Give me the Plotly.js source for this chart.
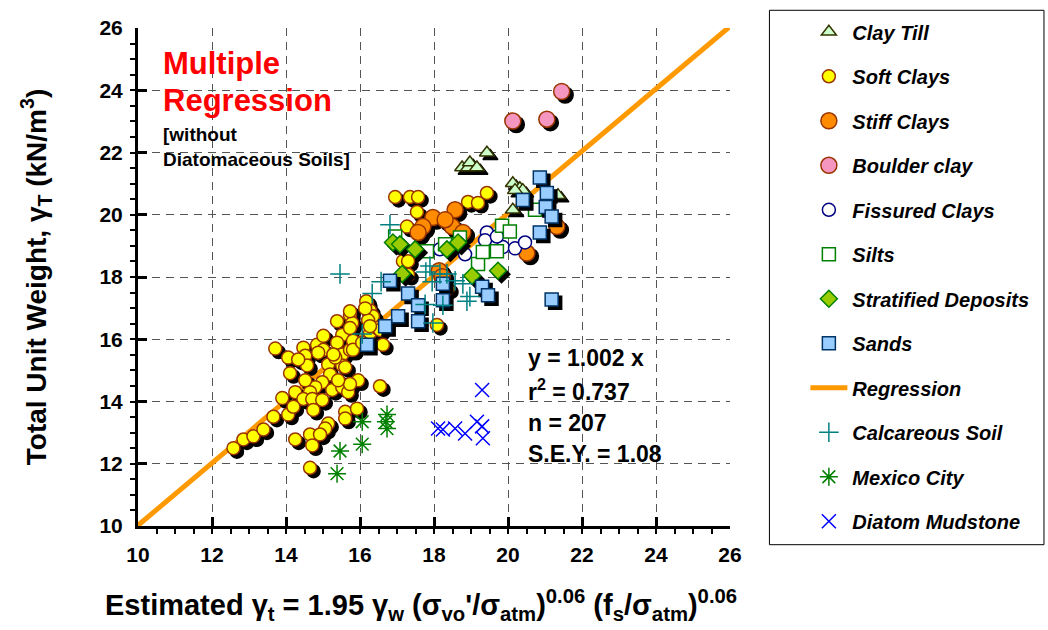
<!DOCTYPE html>
<html>
<head>
<meta charset="utf-8">
<script src="https://cdn.plot.ly/plotly-3.0.1.min.js"></script>
<style>html,body{margin:0;padding:0;background:#fff;}#chart{width:1048px;height:630px;}</style>
</head>
<body>
<div id="chart"></div>
<script>
// ---- data ----
const clayTillX = [18.76, 18.92, 18.97, 19.16, 19.43, 20.13, 20.32, 20.40, 20.19, 21.35, 20.13];
const clayTillY = [21.52, 21.52, 21.68, 21.52, 21.99, 21.01, 20.85, 20.79, 20.79, 20.63, 20.16];

const softX = [12.58,12.85,13.12,13.39,13.66,13.90,13.71,14.06,14.11,14.06,14.25,14.25,14.47,14.52,14.57,14.33,14.65,14.71,14.65,14.84,
  15.01,15.01,14.87,15.38,15.73,15.79,15.52,15.38,15.52,15.73,15.81,15.14,15.52,15.19,14.98,14.79,14.65,14.47,14.71,14.98,
  14.74,15.25,15.52,15.68,15.95,15.73,15.60,15.60,15.92,15.14,15.06,14.92,16.54,16.19,16.27,16.35,16.22,16.27,16.62,16.46,
  15.81,15.33,15.73,16.17,16.14,16.54,16.27,15.73,16.95,17.35,17.57,17.54,17.27,18.92,19.19,19.43,17.16,17.30,17.30,16.98,
  18.24,18.38,18.08,15.28,15.41,14.52,14.20,16.06,15.60];
const softY = [12.50,12.78,12.88,13.10,13.51,14.11,15.70,15.41,14.91,13.58,12.78,14.30,15.73,15.47,15.16,15.35,12.94,12.59,11.87,15.82,
  16.11,15.66,15.57,16.58,16.77,16.52,16.14,15.89,15.51,15.66,15.95,15.19,15.16,14.87,14.62,14.46,14.30,14.08,14.08,14.05,
  13.73,14.37,14.46,14.30,14.68,14.56,13.67,13.45,13.77,13.29,13.13,12.94,14.49,17.15,16.93,16.74,16.61,16.20,15.82,16.36,
  15.66,15.41,16.36,17.22,16.99,16.30,16.42,16.90,20.57,20.57,20.57,20.09,19.62,20.41,20.38,20.70,18.51,18.51,18.07,19.05,
  18.10,17.63,16.46,15.51,14.68,14.68,13.83,15.89,15.10];

const stiffX = [17.97, 17.70, 17.57, 18.57, 18.49, 18.78, 18.14, 18.22, 20.51, 21.32, 18.30];
const stiffY = [19.91, 19.62, 19.43, 20.16, 19.62, 19.43, 18.20, 18.01, 18.77, 19.62, 19.84];

const boulderX = [21.45, 20.13, 21.05];
const boulderY = [23.96, 23.01, 23.07];

const fissuredX = [18.16, 18.84, 19.43, 19.38, 19.86, 20.19, 20.46, 19.70];
const fissuredY = [18.89, 18.73, 19.43, 19.18, 18.96, 18.92, 19.11, 19.30];

const siltsX = [16.95, 17.81, 18.70, 19.19, 19.32, 19.70, 19.84, 20.05, 20.73, 18.30];
const siltsY = [19.30, 18.83, 19.27, 18.42, 18.80, 18.83, 19.65, 19.46, 20.16, 19.05];

const stratX = [16.89, 17.08, 17.49, 18.35, 18.65, 17.14, 19.03, 19.73];
const stratY = [19.11, 19.05, 18.89, 18.89, 19.11, 18.10, 18.04, 18.20];

const sandsX = [16.81, 17.30, 17.57, 17.03, 16.68, 16.19, 18.24, 18.24, 17.57, 19.30, 19.46, 20.86, 21.05, 20.40, 21.02, 21.18, 20.86, 21.18];
const sandsY = [17.88, 17.47, 17.09, 16.74, 16.42, 15.82, 17.78, 17.25, 16.58, 17.69, 17.41, 21.20, 20.70, 20.47, 20.25, 19.94, 19.43, 17.28];

const calcX = [15.46, 16.06, 16.33, 16.57, 16.81, 17.78, 17.89, 17.95, 18.16, 18.35, 18.57, 18.78, 18.89, 18.97, 17.76, 18.24, 17.97];
const calcY = [18.10, 16.17, 17.47, 17.85, 19.68, 18.16, 18.35, 17.85, 18.10, 18.10, 17.88, 17.78, 17.22, 17.37, 17.12, 17.09, 16.52];

const mexicoX = [16.73, 16.73, 16.06, 16.06, 15.46, 15.38, 16.70];
const mexicoY = [13.58, 13.13, 13.35, 12.63, 12.41, 11.68, 13.35];

const diatomX = [19.30, 18.11, 18.24, 18.57, 18.84, 19.16, 19.30, 19.32];
const diatomY = [14.37, 13.13, 13.10, 13.13, 12.97, 13.35, 13.20, 12.82];

const regSlope = 1.002;
const regX = [10, 26];

const xTicks = [10, 12, 14, 16, 18, 20, 22, 24, 26];
const yTicks = [10, 12, 14, 16, 18, 20, 22, 24, 26];

// ---- layout helpers ----
const W = 1048, H = 630;
const L = 137.5, R = 730.5, T = 20, B = 526;
const pw = R - L, ph = B - T;
const px2paperX = p => (p - L) / pw;
const px2paperY = p => (B - p) / ph;
const shadowDx = 3.5 * 16 / pw, shadowDy = 3.5 * 16 / ph;

const FONT = 'Arial, "Liberation Sans", Helvetica, sans-serif';

function shadow(xs, ys, symbol, size) {
  return {
    x: xs.map(v => v + shadowDx), y: ys.map(v => v - shadowDy),
    type: 'scatter', mode: 'markers', showlegend: false, hoverinfo: 'skip',
    marker: {symbol: symbol, size: size, color: '#000', line: {width: 1.5, color: '#000'}}
  };
}
function series(name, xs, ys, rank, marker) {
  return {x: xs, y: ys, name: name, type: 'scatter', mode: 'markers',
    legendrank: rank, legendgroup: name, marker: marker};
}

const traces = [
  {x: regX, y: regX.map(v => regSlope * v), name: 'Regression', type: 'scatter', mode: 'lines',
   legendrank: 9, legendgroup: 'Regression', line: {color: '#FF9900', width: 5}},
  shadow(clayTillX, clayTillY, 'triangle-up', 13),
  series('Clay Till', clayTillX, clayTillY, 1, {symbol: 'triangle-up', size: 13, color: '#CCFFCC', line: {width: 1.5, color: '#333300'}}),
  shadow(softX, softY, 'circle', 13),
  series('Soft Clays', softX, softY, 2, {symbol: 'circle', size: 13, color: '#FFFF00', line: {width: 1.5, color: '#993300'}}),
  shadow(stiffX, stiffY, 'circle', 16),
  series('Stiff Clays', stiffX, stiffY, 3, {symbol: 'circle', size: 16, color: '#FF8C00', line: {width: 1.5, color: '#993300'}}),
  shadow(boulderX, boulderY, 'circle', 16),
  series('Boulder clay', boulderX, boulderY, 4, {symbol: 'circle', size: 16, color: '#F596C0', line: {width: 1.5, color: '#993300'}}),
  series('Fissured Clays', fissuredX, fissuredY, 5, {symbol: 'circle', size: 13, color: '#FFFFFF', line: {width: 1.5, color: '#000080'}}),
  series('Silts', siltsX, siltsY, 6, {symbol: 'square', size: 13, color: '#FFFFFF', line: {width: 1.5, color: '#008000'}}),
  shadow(stratX, stratY, 'diamond', 13),
  series('Stratified Deposits', stratX, stratY, 7, {symbol: 'diamond', size: 13, color: '#99CC00', line: {width: 1.5, color: '#008000'}}),
  shadow(sandsX, sandsY, 'square', 13),
  series('Sands', sandsX, sandsY, 8, {symbol: 'square', size: 13, color: '#99CCFF', line: {width: 1.5, color: '#003366'}}),
  series('Calcareous Soil', calcX, calcY, 10, {symbol: 'cross-thin-open', size: 14, color: '#008080', line: {width: 1.5, color: '#008080'}}),
  series('Mexico City', mexicoX, mexicoY, 11, {symbol: 'asterisk-open', size: 15, color: '#008000', line: {width: 1.5, color: '#008000'}}),
  series('Diatom Mudstone', diatomX, diatomY, 12, {symbol: 'x-thin-open', size: 14, color: '#0000FF', line: {width: 1.5, color: '#0000FF'}})
];

function ann(text, px, py, size, color, anchor) {
  return {text: text, xref: 'paper', yref: 'paper', x: px2paperX(px), y: px2paperY(py),
    xanchor: anchor || 'left', yanchor: 'middle', showarrow: false,
    font: {family: FONT, size: size, color: color, weight: 'bold'}};
}

const axisCommon = {
  range: [10, 26], tickmode: 'array', showline: true, linewidth: 3, linecolor: '#000',
  ticks: 'inside', ticklen: 9, tickwidth: 3, tickcolor: '#000',
  minor: {ticks: 'outside', dtick: 0.5, ticklen: 5, tickwidth: 2, tickcolor: '#000', showgrid: false},
  showgrid: true, gridcolor: '#555', gridwidth: 1, griddash: '8px,6px',
  zeroline: false, tickfont: {family: FONT, size: 21, color: '#000', weight: 'bold'}
};

const layout = {
  width: W, height: H,
  margin: {l: L, r: W - R, t: T, b: H - B, pad: 0},
  paper_bgcolor: '#fff', plot_bgcolor: '#fff',
  showlegend: true,
  xaxis: Object.assign({}, axisCommon, {
    tickvals: xTicks, ticktext: xTicks.map(String), ticklabelstandoff: 8
  }),
  yaxis: Object.assign({}, axisCommon, {
    tickvals: yTicks, ticktext: yTicks.map(String), ticklabelstandoff: 8,
    title: {text: 'Total Unit Weight, γ<sub>T</sub> (kN/m<sup>3</sup>)',
      font: {family: FONT, size: 28, color: '#000', weight: 'bold'}, standoff: 45}
  }),
  legend: {
    x: px2paperX(806), y: px2paperY(4), xanchor: 'left', yanchor: 'top',
    traceorder: 'grouped', tracegroupgap: 15.5, itemwidth: 37, bgcolor: 'rgba(0,0,0,0)', borderwidth: 0,
    maxheight: 620,
    font: {family: FONT, size: 20, color: '#000', weight: 'bold', style: 'italic'}
  },
  shapes: [{type: 'rect', xref: 'paper', yref: 'paper',
    x0: px2paperX(770), x1: px2paperX(1045), y0: px2paperY(545), y1: px2paperY(2),
    line: {color: '#000', width: 1}, fillcolor: 'rgba(0,0,0,0)', layer: 'below'}],
  annotations: [
    ann('Multiple', 161, 56, 31, '#FF0000'),
    ann('Regression', 161, 94, 31, '#FF0000'),
    ann('[without', 161, 128, 19, '#000'),
    ann('Diatomaceous Soils]', 161, 154, 19, '#000'),
    ann('y = 1.002 x', 526, 355, 23, '#000'),
    ann('r<sup>2</sup> = 0.737', 526, 388, 23, '#000'),
    ann('n = 207', 526, 421, 23, '#000'),
    ann('S.E.Y. = 1.08', 526, 453, 23, '#000'),
    ann("Estimated γ<sub>t</sub> = 1.95 γ<sub>w</sub> (σ<sub>vo</sub>'/σ<sub>atm</sub>)<sup>0.06</sup> (f<sub>s</sub>/σ<sub>atm</sub>)<sup>0.06</sup>",
      421, 606, 29, '#000', 'center')
  ]
};

Plotly.newPlot('chart', traces, layout, {displayModeBar: false, staticPlot: true});
</script>
</body>
</html>
